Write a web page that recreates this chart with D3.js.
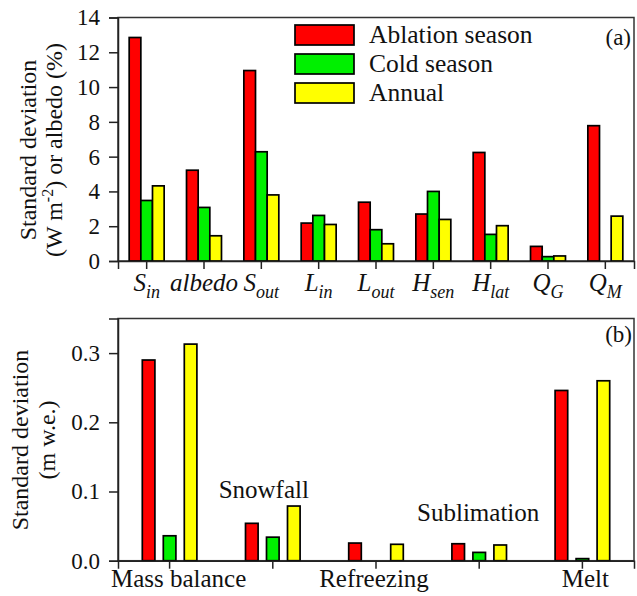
<!DOCTYPE html>
<html>
<head>
<meta charset="utf-8">
<script src="https://cdn.jsdelivr.net/npm/d3@7"></script>
<style>
  html, body { margin: 0; padding: 0; background: #fff; }
  svg { display: block; }
</style>
</head>
<body>
<svg id="chart" width="637" height="596" font-family="Liberation Serif"></svg>
<script>
// ---------- Data ----------
const seriesNames = ["Ablation season", "Cold season", "Annual"];
const seriesColors = ["#ff0000", "#00f000", "#ffff00"];

// Panel (a): energy-balance components (label base _ subscript)
const catsA = ["S_in", "albedo", "S_out", "L_in", "L_out", "H_sen", "H_lat", "Q_G", "Q_M"];
const ablationA = [12.85, 5.22, 10.95, 2.18, 3.38, 2.70, 6.24, 0.84, 7.78];
const coldA     = [3.48, 3.08, 6.28, 2.62, 1.80, 4.00, 1.53, 0.25, 0];
const annualA   = [4.32, 1.45, 3.80, 2.10, 0.99, 2.39, 2.03, 0.29, 2.58];
const ticksA = [0, 2, 4, 6, 8, 10, 12, 14];

// Panel (b): mass-balance components
const catsB = ["Mass balance", "Snowfall", "Refreezing", "Sublimation", "Melt"];
const labelAboveB = [false, true, false, true, false];
const ablationB = [0.290, 0.054, 0.0255, 0.0245, 0.246];
const coldB     = [0.036, 0.034, 0, 0.012, 0.003];
const annualB   = [0.313, 0.079, 0.0237, 0.0227, 0.260];
const ticksB = [0.0, 0.1, 0.2, 0.3];

// ---------- Layout ----------
const svg = d3.select("#chart");
const FONT = "Liberation Serif";
const INK = "#111";
const L = 118, R = 634;
const aTop = 17.5, aBot = 261;
const bTop = 318.5, bBot = 560.7;

function frame(g, top, bot) {
  g.append("rect").attr("x", L).attr("y", top).attr("width", R - L).attr("height", bot - top)
    .attr("fill", "none").attr("stroke", "#333").attr("stroke-width", 1.5);
}

function styleAxis(g) {
  g.attr("font-family", FONT);
  g.selectAll(".domain").attr("stroke", "#222").attr("stroke-width", 1.5);
  g.selectAll(".tick line").attr("stroke", "#222").attr("stroke-width", 1.5);
  g.selectAll(".tick text").attr("fill", INK).attr("font-family", FONT);
}

function txt(g, x, y, s, size, anchor) {
  return g.append("text").attr("x", x).attr("y", y).attr("font-family", FONT)
    .attr("font-size", size).attr("fill", INK).attr("text-anchor", anchor || "start").text(s);
}

// ---------- Panel (a) ----------
const gA = svg.append("g");
const xA = d3.scaleBand().domain(catsA).range([L, R]).paddingInner(0.39).paddingOuter(0.195);
const x1A = d3.scaleBand().domain(seriesNames).range([0, xA.bandwidth()]).padding(0);
const yA = d3.scaleLinear().domain([0, 14]).range([aBot, aTop]);
const valsA = [ablationA, coldA, annualA];

frame(gA, aTop, aBot);

catsA.forEach((c, i) => {
  seriesNames.forEach((s, j) => {
    const v = valsA[j][i];
    if (v <= 0) return;
    gA.append("rect")
      .attr("x", xA(c) + x1A(s))
      .attr("y", yA(v))
      .attr("width", x1A.bandwidth())
      .attr("height", yA(0) - yA(v))
      .attr("fill", seriesColors[j])
      .attr("stroke", "#000").attr("stroke-width", 1.7);
  });
});

const yAxisA = gA.append("g").attr("transform", `translate(${L},0)`)
  .call(d3.axisLeft(yA).tickValues(ticksA).tickFormat(d3.format("d")).tickSize(9).tickPadding(9));
yAxisA.selectAll("text").attr("font-size", 23);
styleAxis(yAxisA);

const xAxisA = gA.append("g").attr("transform", `translate(0,${aBot})`)
  .call(d3.axisBottom(xA).tickSize(8).tickFormat(""));
styleAxis(xAxisA);

// custom italic labels with subscripts
xAxisA.selectAll(".tick").each(function(d) {
  const parts = d.split("_");
  const t = d3.select(this).append("text")
    .attr("y", 30).attr("text-anchor", "middle").attr("font-family", FONT)
    .attr("font-size", 25).attr("font-style", "italic").attr("fill", INK);
  t.append("tspan").text(parts[0]);
  if (parts[1]) {
    t.append("tspan").attr("dy", 7).attr("font-size", 18).text(parts[1]);
  }
});

// legend
const leg = gA.append("g");
seriesNames.forEach((s, j) => {
  leg.append("rect").attr("x", 295).attr("y", 25 + j * 29).attr("width", 59).attr("height", 20)
    .attr("fill", seriesColors[j]).attr("stroke", "#000").attr("stroke-width", 1.7);
  txt(leg, 369, 43 + j * 29, s, 25.5);
});

txt(gA, 631, 45, "(a)", 23, "end");

// y title (a)
const tA = gA.append("g").attr("transform", `translate(0,150) rotate(-90)`);
txt(tA, 0, 36, "Standard deviation", 24, "middle");
const tA2 = txt(tA, 0, 62, "", 24, "middle");
tA2.append("tspan").text("(W m");
tA2.append("tspan").attr("dy", -9).attr("font-size", 16).text("-2");
tA2.append("tspan").attr("dy", 9).text(") or albedo (%)");

// ---------- Panel (b) ----------
const gB = svg.append("g");
const xB = d3.scaleBand().domain(catsB).range([L, R]).paddingInner(0.471).paddingOuter(0.2355);
const x1B = d3.scaleBand().domain(seriesNames).range([0, xB.bandwidth()]).paddingInner(0.4).paddingOuter(0);
const yB = d3.scaleLinear().domain([0, 0.35]).range([bBot, bTop]);
const valsB = [ablationB, coldB, annualB];

frame(gB, bTop, bBot);

catsB.forEach((c, i) => {
  seriesNames.forEach((s, j) => {
    const v = valsB[j][i];
    if (v <= 0) return;
    gB.append("rect")
      .attr("x", xB(c) + x1B(s))
      .attr("y", yB(v))
      .attr("width", x1B.bandwidth())
      .attr("height", yB(0) - yB(v))
      .attr("fill", seriesColors[j])
      .attr("stroke", "#000").attr("stroke-width", 1.7);
  });
});

const yAxisB = gB.append("g").attr("transform", `translate(${L},0)`)
  .call(d3.axisLeft(yB).tickValues(ticksB).tickFormat(d3.format(".1f")).tickSize(9).tickPadding(9));
yAxisB.selectAll("text").attr("font-size", 23);
styleAxis(yAxisB);

const xAxisB = gB.append("g").attr("transform", `translate(0,${bBot})`)
  .call(d3.axisBottom(xB).tickSize(8).tickFormat(""));
styleAxis(xAxisB);

const belowShift = [9, 0, -2, 0, 3];
catsB.forEach((c, i) => {
  const cx = xB(c) + xB.bandwidth() / 2;
  if (labelAboveB[i]) {
    const top = d3.max(valsB, v => v[i]);
    txt(gB, cx - (i === 1 ? 9 : 1), yB(top) - (i === 1 ? 8 : 23), c, 25, "middle");
  } else {
    txt(gB, cx + belowShift[i], bBot + 26, c, 25, "middle");
  }
});

txt(gB, 632, 342, "(b)", 23, "end");

const tB = gB.append("g").attr("transform", `translate(0,440) rotate(-90)`);
txt(tB, 0, 28, "Standard deviation", 24, "middle");
txt(tB, 0, 55, "(m w.e.)", 24, "middle");
</script>
</body>
</html>
